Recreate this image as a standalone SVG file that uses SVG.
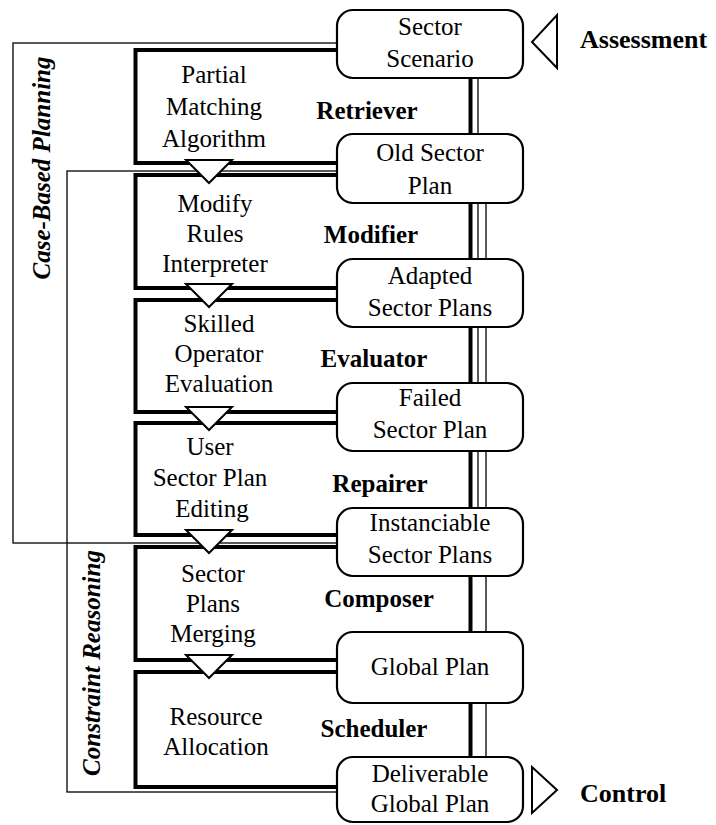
<svg xmlns="http://www.w3.org/2000/svg" width="716" height="825" viewBox="0 0 716 825">
  <style>
    .bracket { fill: none; stroke: #000; stroke-width: 1.3; }
    .stage { fill: none; stroke: #000; stroke-width: 4; }
    .flow { fill: #fff; stroke: #000; stroke-width: 2; stroke-linejoin: miter; }
    .node rect { fill: #fff; stroke: #000; stroke-width: 2.2; }
    .io { fill: #fff; stroke: #000; stroke-width: 2; }
    text { font-family: "Liberation Serif", "Times New Roman", serif; fill: #000; }
    .nt { font-size: 25px; text-anchor: middle; }
    .lt { font-size: 25px; text-anchor: middle; }
    .st { font-size: 25px; font-weight: bold; text-anchor: middle; }
    .ext { font-size: 26px; font-weight: bold; }
    .grp { font-size: 25px; font-weight: bold; font-style: italic; text-anchor: middle; }
  </style>

  <!-- connectors: group brackets, stage frames, flow markers, in/out arrows -->
  <g id="connectors">
    <!-- Case-Based Planning bracket (Sector Scenario .. Instanciable Sector Plans) -->
    <rect class="bracket" x="13" y="43" width="465" height="500"/>
    <!-- Constraint Reasoning bracket (Old Sector Plan .. Deliverable Global Plan) -->
    <rect class="bracket" x="67" y="171" width="419" height="621"/>

    <!-- stage frames -->
    <rect class="stage" x="135.5" y="50" width="335" height="113"/>
    <rect class="stage" x="135.5" y="175" width="335" height="113"/>
    <rect class="stage" x="135.5" y="300" width="335" height="112"/>
    <rect class="stage" x="135.5" y="423" width="335" height="112"/>
    <rect class="stage" x="135.5" y="547" width="335" height="113"/>
    <rect class="stage" x="135.5" y="672" width="335" height="115"/>

    <!-- downward flow markers between stages -->
    <polygon class="flow" points="186,160 232,160 209,183"/>
    <polygon class="flow" points="186,284 232,284 209,307"/>
    <polygon class="flow" points="186,407 232,407 209,430"/>
    <polygon class="flow" points="186,530 232,530 209,553"/>
    <polygon class="flow" points="186,655 232,655 209,678"/>

    <!-- input / output arrows -->
    <polygon class="io" points="557,15 557,68 532,42"/>
    <polygon class="io" points="532,767 532,813 557,790"/>
  </g>

  <!-- nodes -->
  <g id="sector-scenario" class="node">
    <rect x="337" y="10" width="186" height="68" rx="16"/>
    <text class="nt" x="430" y="35">Sector</text>
    <text class="nt" x="430" y="67">Scenario</text>
  </g>
  <g id="old-sector-plan" class="node">
    <rect x="337" y="134" width="186" height="69" rx="16"/>
    <text class="nt" x="430" y="161">Old Sector</text>
    <text class="nt" x="430" y="194">Plan</text>
  </g>
  <g id="adapted-sector-plans" class="node">
    <rect x="337" y="259" width="186" height="68" rx="16"/>
    <text class="nt" x="430" y="284">Adapted</text>
    <text class="nt" x="430" y="316">Sector Plans</text>
  </g>
  <g id="failed-sector-plan" class="node">
    <rect x="337" y="383" width="186" height="68" rx="16"/>
    <text class="nt" x="430" y="406">Failed</text>
    <text class="nt" x="430" y="438">Sector Plan</text>
  </g>
  <g id="instanciable-sector-plans" class="node">
    <rect x="337" y="508" width="186" height="68" rx="16"/>
    <text class="nt" x="430" y="531">Instanciable</text>
    <text class="nt" x="430" y="563">Sector Plans</text>
  </g>
  <g id="global-plan" class="node">
    <rect x="337" y="632" width="186" height="71" rx="16"/>
    <text class="nt" x="430" y="675">Global Plan</text>
  </g>
  <g id="deliverable-global-plan" class="node">
    <rect x="337" y="757" width="186" height="65" rx="16"/>
    <text class="nt" x="430" y="782">Deliverable</text>
    <text class="nt" x="430" y="812">Global Plan</text>
  </g>

  <!-- stage methods -->
  <g id="retriever">
    <text class="lt" x="214" y="83">Partial</text>
    <text class="lt" x="214" y="115">Matching</text>
    <text class="lt" x="214" y="147">Algorithm</text>
    <text class="st" x="367" y="119">Retriever</text>
  </g>
  <g id="modifier">
    <text class="lt" x="215" y="212">Modify</text>
    <text class="lt" x="215" y="242">Rules</text>
    <text class="lt" x="215" y="272">Interpreter</text>
    <text class="st" x="371" y="243">Modifier</text>
  </g>
  <g id="evaluator">
    <text class="lt" x="219" y="332">Skilled</text>
    <text class="lt" x="219" y="362">Operator</text>
    <text class="lt" x="219" y="392">Evaluation</text>
    <text class="st" x="374" y="367">Evaluator</text>
  </g>
  <g id="repairer">
    <text class="lt" x="210" y="455">User</text>
    <text class="lt" x="210" y="486">Sector Plan</text>
    <text class="lt" x="212" y="517">Editing</text>
    <text class="st" x="380" y="492">Repairer</text>
  </g>
  <g id="composer">
    <text class="lt" x="213" y="582">Sector</text>
    <text class="lt" x="213" y="612">Plans</text>
    <text class="lt" x="213" y="642">Merging</text>
    <text class="st" x="379" y="607">Composer</text>
  </g>
  <g id="scheduler">
    <text class="lt" x="216" y="725">Resource</text>
    <text class="lt" x="216" y="755">Allocation</text>
    <text class="st" x="374" y="737">Scheduler</text>
  </g>

  <!-- group labels -->
  <g id="case-based-planning">
    <text class="grp" transform="translate(50,168) rotate(-90)">Case-Based Planning</text>
  </g>
  <g id="constraint-reasoning">
    <text class="grp" transform="translate(100,663) rotate(-90)">Constraint Reasoning</text>
  </g>

  <!-- external links -->
  <g id="assessment">
    <text class="ext" x="580" y="48">Assessment</text>
  </g>
  <g id="control">
    <text class="ext" x="580" y="802">Control</text>
  </g>
</svg>
